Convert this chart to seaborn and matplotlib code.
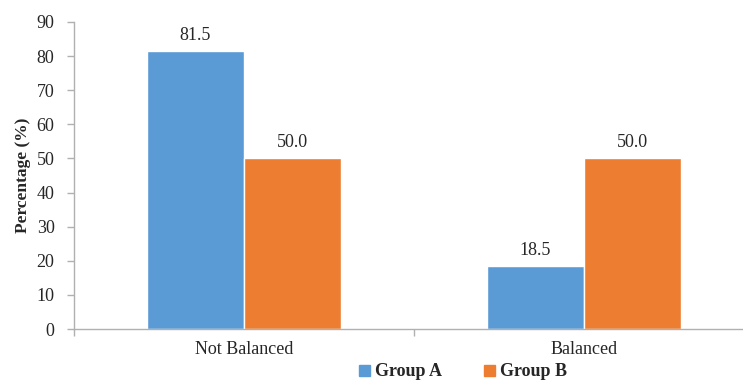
import matplotlib.pyplot as plt
import seaborn as sns
import pandas as pd

categories = ["Not Balanced", "Balanced"]
groups = ["Group A", "Group B"]
group_a = [81.5, 18.5]
group_b = [50.0, 50.0]
colors = ["#5B9BD5", "#ED7D31"]

df = pd.DataFrame({
    "category": categories * 2,
    "group": [groups[0]] * 2 + [groups[1]] * 2,
    "value": group_a + group_b,
})

sns.set_theme(style="white")
plt.rcParams["font.family"] = ["Liberation Serif", "DejaVu Serif"]

fig = plt.figure(figsize=(7.43, 3.81), dpi=100)
ax = fig.add_axes([74 / 743, 52 / 381, 668 / 743, 307 / 381])

sns.barplot(data=df, x="category", y="value", hue="group", order=categories,
            hue_order=groups, palette=colors, width=0.57, saturation=1,
            ax=ax, legend=False)

for cont in ax.containers:
    ax.bar_label(cont, fmt="%.1f", padding=5, fontsize=13)

ax.set_ylim(0, 90)
ax.set_yticks(range(0, 91, 10))
ax.set_xlim(-0.5, 1.465)
ax.set_xticks([-0.5, 0.5])
ax.set_xticklabels([])
ax.set_xticks([0, 1], minor=True)
ax.set_xticklabels(categories, minor=True, fontsize=13)
ax.tick_params(axis="x", which="minor", length=0, pad=9)
ax.tick_params(axis="x", which="major", length=5, color="#B0B0B0", width=1, bottom=True)
ax.tick_params(axis="y", length=5, color="#B0B0B0", width=1, labelsize=13, left=True, pad=9)
ax.set_xlabel("")
ax.set_ylabel("Percentage (%)", fontsize=12.5, fontweight="bold", labelpad=4)

for s in ["top", "right"]:
    ax.spines[s].set_visible(False)
for s in ["left", "bottom"]:
    ax.spines[s].set_color("#B0B0B0")
    ax.spines[s].set_linewidth(1)

handles = [plt.Rectangle((0, 0), 1, 1, color=c) for c in colors]
fig.legend(handles, groups, loc="center", bbox_to_anchor=(463 / 743, 9 / 381),
           ncol=2, frameon=False, prop={"weight": "bold", "size": 13},
           handlelength=0.6, handleheight=0.55, handletextpad=0.3, columnspacing=2.3,
           borderpad=0)

fig.savefig("out.png", dpi=100)
